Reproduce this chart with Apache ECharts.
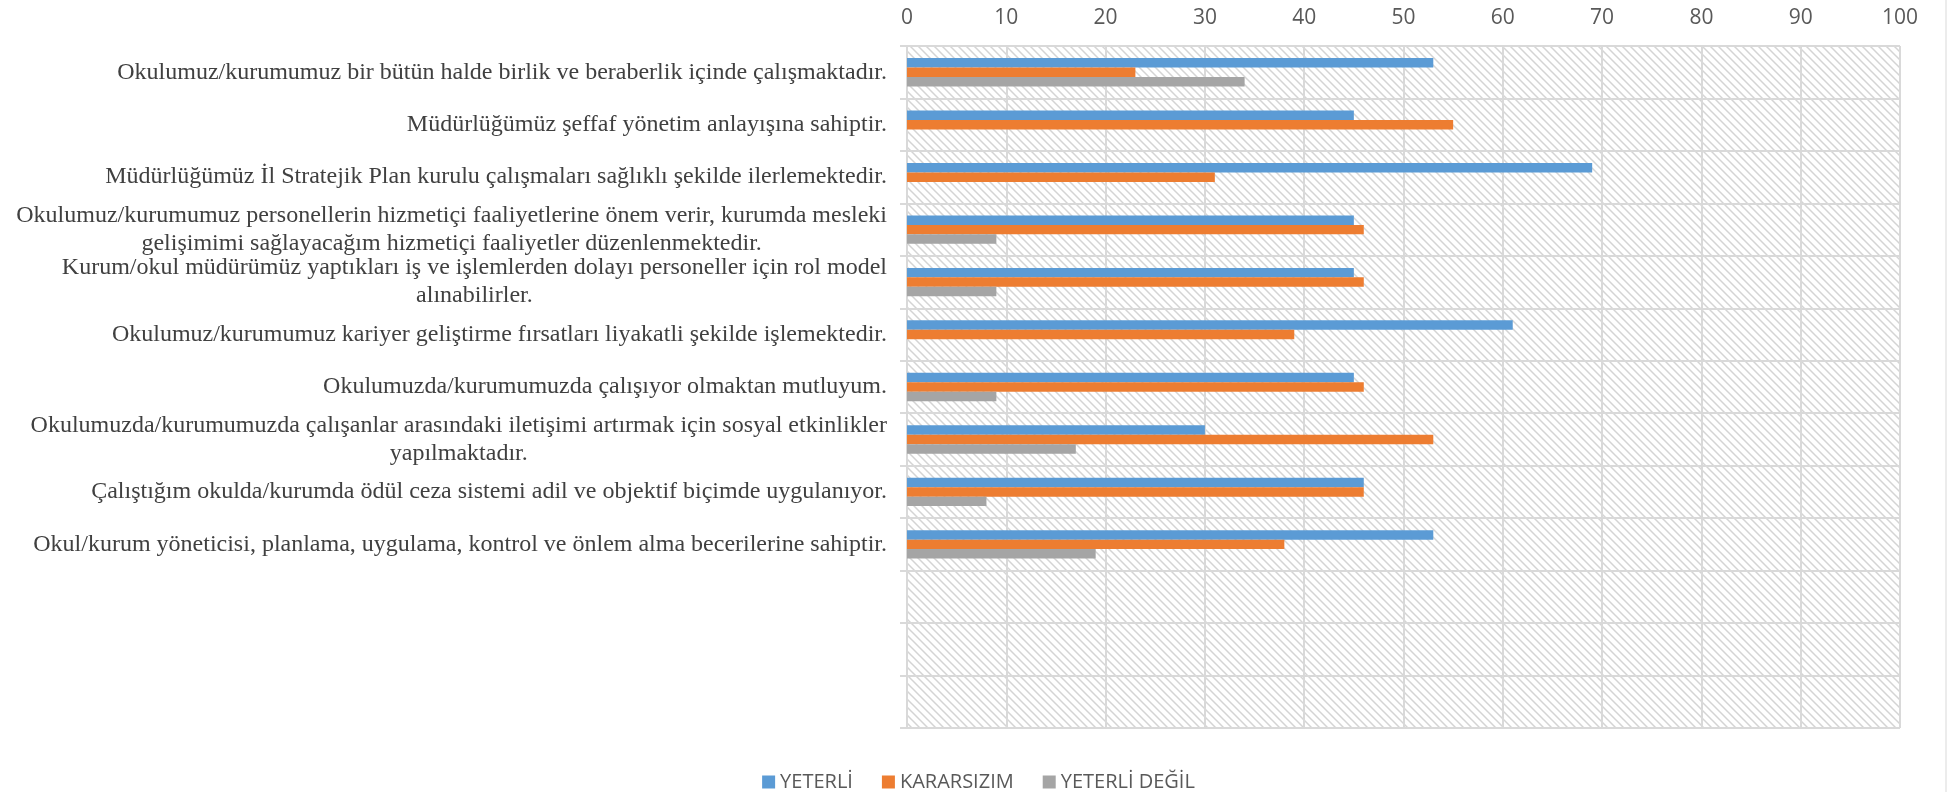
<!DOCTYPE html>
<html>
<head>
<meta charset="utf-8">
<script src="https://cdn.jsdelivr.net/npm/echarts@6/dist/echarts.min.js"></script>
<style>
  html, body { margin: 0; padding: 0; background: #fff; }
  #chart { width: 1957px; height: 792px; }
</style>
</head>
<body>
<div id="chart"></div>
<script>
var categories = [
    'Okulumuz/kurumumuz bir bütün halde birlik ve beraberlik içinde çalışmaktadır.',
    'Müdürlüğümüz şeffaf yönetim anlayışına sahiptir.',
    'Müdürlüğümüz İl Stratejik Plan kurulu çalışmaları sağlıklı şekilde ilerlemektedir.',
    'Okulumuz/kurumumuz personellerin hizmetiçi faaliyetlerine önem verir, kurumda mesleki\ngelişimimi sağlayacağım hizmetiçi faaliyetler düzenlenmektedir.',
    'Kurum/okul müdürümüz yaptıkları iş ve işlemlerden dolayı personeller için rol model\nalınabilirler.',
    'Okulumuz/kurumumuz kariyer geliştirme fırsatları liyakatli şekilde işlemektedir.',
    'Okulumuzda/kurumumuzda çalışıyor olmaktan mutluyum.',
    'Okulumuzda/kurumumuzda çalışanlar arasındaki iletişimi artırmak için sosyal etkinlikler\nyapılmaktadır.',
    'Çalıştığım okulda/kurumda ödül ceza sistemi adil ve objektif biçimde uygulanıyor.',
    'Okul/kurum yöneticisi, planlama, uygulama, kontrol ve önlem alma becerilerine sahiptir.',
    '', '', ''
];
var seriesNames = ['YETERLİ', 'KARARSIZIM', 'YETERLİ DEĞİL'];
var yeterli     = [53, 45, 69, 45, 45, 61, 45, 30, 46, 53];
var kararsizim  = [23, 55, 31, 46, 46, 39, 46, 53, 46, 38];
var yeterliDegil = [34, null, null, 9, 9, null, 9, 17, 8, 19];
var colors = ['#5b9bd5', '#ed7d31', '#a5a5a5'];

// hatched plot background (wide downward diagonal)
var hatch = document.createElement('canvas');
hatch.width = 8;
hatch.height = 8;
var hc = hatch.getContext('2d');
hc.fillStyle = '#ffffff';
hc.fillRect(0, 0, 8, 8);
hc.strokeStyle = '#d4d4d4';
hc.lineWidth = 1.5;
hc.beginPath();
hc.moveTo(-2, -2); hc.lineTo(10, 10);
hc.moveTo(-2, 6); hc.lineTo(2, 10);
hc.moveTo(6, -2); hc.lineTo(10, 2);
hc.stroke();

var myChart = echarts.init(document.getElementById('chart'));
var gridColor = '#d9d9d9';

var option = {
    animation: false,
    graphic: [{
        // chart area border on the right
        type: 'line',
        shape: { x1: 1946, y1: 0, x2: 1946, y2: 792 },
        style: { stroke: '#d9d9d9', lineWidth: 1 }
    }],
    grid: {
        left: 907,
        right: 57,
        top: 46,
        bottom: 64,
        show: true,
        borderWidth: 0,
        backgroundColor: { image: hatch, repeat: 'repeat' }
    },
    legend: {
        data: seriesNames,
        top: 767,
        left: 'center',
        icon: 'rect',
        itemWidth: 13,
        itemHeight: 13,
        itemGap: 29,
        textStyle: { fontFamily: 'Open Sans', fontSize: 20, color: '#595959' }
    },
    xAxis: {
        type: 'value',
        position: 'top',
        min: 0,
        max: 100,
        interval: 10,
        axisLine: { show: false },
        axisTick: { show: false },
        axisLabel: { margin: 17, fontFamily: 'Open Sans', fontSize: 21, color: '#595959' },
        splitLine: { show: true, lineStyle: { color: gridColor, width: 2 } }
    },
    yAxis: {
        type: 'category',
        inverse: true,
        data: categories,
        axisLine: { show: true, lineStyle: { color: gridColor, width: 2 } },
        axisTick: { show: true, length: 7, interval: 0, lineStyle: { color: gridColor, width: 2 } },
        splitLine: { show: true, interval: 0, lineStyle: { color: gridColor, width: 2 } },
        axisLabel: {
            interval: 0,
            margin: 20,
            align: 'right',
            formatter: function (v) {
                if (!v) return '';
                return v.split('\n').map(function (s) { return '{c|' + s + '}'; }).join('\n');
            },
            rich: {
                c: {
                    align: 'center',
                    fontFamily: 'Liberation Serif',
                    fontSize: 24,
                    lineHeight: 28,
                    color: '#404040'
                }
            }
        }
    },
    series: [
        { name: seriesNames[0], type: 'bar', data: yeterli, itemStyle: { color: colors[0] }, barGap: '0%', barCategoryGap: '46%' },
        { name: seriesNames[1], type: 'bar', data: kararsizim, itemStyle: { color: colors[1] } },
        { name: seriesNames[2], type: 'bar', data: yeterliDegil, itemStyle: { color: colors[2] } }
    ]
};
myChart.setOption(option);
</script>
</body>
</html>
